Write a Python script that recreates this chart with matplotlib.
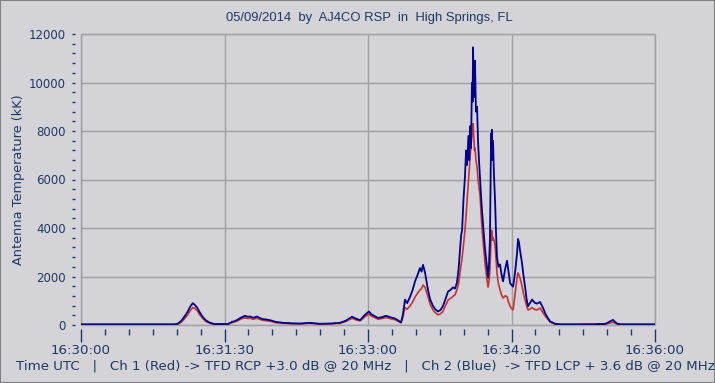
import matplotlib
matplotlib.use("Agg")
import matplotlib.pyplot as plt
from matplotlib.ticker import MultipleLocator, FixedLocator, FixedFormatter
from matplotlib.patches import Rectangle

# ---- data (seconds after 16:30:00 UTC, antenna temperature in kK) ----
t_sec = [0, 59, 60.8, 63, 65.2, 67, 68.4, 69.5, 70.2, 71.5, 72.8, 74.5, 76.5, 78.5, 80.9,
         84, 92.2, 94.7, 96.5, 98.5, 100.5, 102.9, 104.5, 106, 108, 110.4, 112, 113.5, 116,
         118.5, 122, 126.7, 132, 137.4, 143, 149.9, 156, 162.4, 166.2, 168, 170, 172.5, 175,
         178.1, 180.6, 182, 183.8, 186.3, 189, 191.3, 194, 196.9, 199, 200.7, 201.8, 203.2,
         204.5, 206.3, 208, 209.5, 211, 212.6, 213.6, 214.5, 215.8, 217.6, 219, 220.8, 222.3,
         223.9, 225.5, 227, 228.5, 230.2, 231.8, 233.3, 234.6, 235.8, 236.8, 237.7, 238.4, 239,
         239.9, 240.8, 241.5, 242.1, 243, 243.5, 244, 244.6, 245.2, 245.6, 245.9, 246.2, 246.5,
         246.8, 247.1, 247.7, 248.4, 249, 249.6, 250.3, 251.2, 252.1, 253.3, 254.6, 255.3, 255.9,
         256.5, 257.2, 257.5, 257.8, 258.1, 258.4, 259, 259.7, 260.3, 260.9, 261.8, 262.8, 263.7,
         264.7, 266, 267.2, 268.1, 269.1, 270, 271, 272.3, 273.5, 274.1, 274.7, 275.3, 276.6,
         277.5, 278.5, 279.5, 280.4, 281.6, 282.9, 284.5, 286, 287.9, 289.8, 291, 292.3, 294.2,
         297.3, 300.4, 310, 323, 325.5, 328.6, 330.5, 332, 333.7, 335, 336.2, 338.1, 350, 360]

blue_kk = [30, 30, 60, 180, 380, 560, 750, 850, 900, 820, 720, 520, 320, 180, 90,
           40, 40, 130, 160, 230, 310, 380, 340, 350, 300, 350, 300, 250, 230,
           200, 130, 90, 70, 60, 90, 50, 60, 90, 180, 260, 340, 260, 200,
           420, 560, 450, 380, 290, 330, 380, 320, 270, 180, 110, 400, 1050,
           900, 1150, 1450, 1800, 2050, 2350, 2200, 2480, 2150, 1450, 1050, 780, 640,
           560, 620, 780, 1050, 1380, 1450, 1550, 1500, 1750, 2300, 3100, 3700, 3900,
           5200, 6100, 7200, 6600, 7800, 6800, 8200, 7300, 10000, 9200, 11450, 9600, 10600,
           9400, 10900, 8800, 9000, 7600, 6800, 6000, 5000, 4200, 3200, 2400, 1950, 2500,
           3600, 7900, 7200, 8050, 6800, 7600, 6200, 5100, 3800, 2800, 2400, 2500, 2100,
           1800, 2300, 2650, 2200, 1730, 1650, 1580, 2200, 2970, 3550, 3400, 3100, 2550,
           2050, 1580, 1050, 780, 900, 1050, 920, 880, 950, 700, 500, 340, 150,
           50, 30, 30, 30, 40, 40, 100, 160, 210, 120, 60, 30, 30, 30]

red_kk = [15, 15, 40, 120, 280, 430, 580, 680, 720, 680, 600, 420, 260, 140, 70,
          25, 25, 100, 130, 180, 250, 300, 270, 280, 240, 280, 240, 200, 180,
          160, 100, 70, 55, 45, 70, 40, 45, 70, 150, 210, 280, 210, 170,
          340, 460, 370, 320, 240, 270, 310, 260, 220, 150, 90, 300, 720,
          650, 780, 950, 1150, 1300, 1450, 1500, 1650, 1550, 1170, 850, 620, 500,
          420, 460, 560, 780, 1030, 1100, 1180, 1250, 1450, 1700, 2150, 2500, 2750,
          3300, 3900, 4500, 5100, 5900, 6400, 6900, 7400, 7800, 8100, 8300, 7900, 7600,
          7200, 7300, 6800, 6500, 6000, 5700, 5300, 4300, 3500, 2600, 1860, 1560, 1800,
          2300, 3600, 3900, 3800, 3500, 3600, 3500, 3300, 2700, 2150, 1700, 1450, 1250,
          1110, 1200, 1170, 950, 780, 680, 620, 1300, 1950, 2150, 2050, 1950, 1600,
          1300, 1030, 780, 620, 650, 720, 640, 620, 700, 500, 380, 280, 120,
          35, 15, 15, 40, 50, 40, 60, 90, 120, 70, 40, 15, 15, 15]

x_tick_pos = [0, 90, 180, 270, 360]
x_tick_labels = ["16:30:00", "16:31:30", "16:33:00", "16:34:30", "16:36:00"]
y_major_step = 2000
y_minor_step = 400
x_minor_step = 15

title = "05/09/2014  by  AJ4CO RSP  in  High Springs, FL"
ylabel = "Antenna Temperature (kK)"
footer = ("Time UTC   |   Ch 1 (Red) -> TFD RCP +3.0 dB @ 20 MHz   |   "
          "Ch 2 (Blue)  -> TFD LCP + 3.6 dB @ 20 MHz")

BG = "#D4D4D8"
TXT = "#1F3864"
GRID = "#A0A0A4"
RED = "#C83232"
BLUE = "#00008C"

W, H = 715, 383
fig = plt.figure(figsize=(W / 100, H / 100), dpi=100, facecolor=BG)
ax = fig.add_axes([81 / W, 58 / H, 574 / W, 291 / H], facecolor=BG)

ax.plot(t_sec, red_kk, color=RED, lw=1.2, zorder=3)
ax.plot(t_sec, blue_kk, color=BLUE, lw=1.3, zorder=4)

ax.set_xlim(0, 360)
ax.set_ylim(0, 12000)

for s in ax.spines.values():
    s.set_visible(False)
ax.spines['left'].set_position(('outward', 4))
ax.spines['bottom'].set_position(('outward', 3))
ax.add_patch(Rectangle((0, 0), 1, 1, transform=ax.transAxes, fill=False,
                       edgecolor=GRID, lw=1, clip_on=False, zorder=1))

ax.xaxis.set_major_locator(FixedLocator(x_tick_pos))
ax.xaxis.set_major_formatter(FixedFormatter(x_tick_labels))
ax.xaxis.set_minor_locator(MultipleLocator(x_minor_step))
ax.yaxis.set_major_locator(MultipleLocator(y_major_step))
ax.yaxis.set_minor_locator(MultipleLocator(y_minor_step))

ax.tick_params(axis='x', which='major', length=9, width=1, color=TXT, pad=1.5,
               labelsize=9.6, labelcolor=TXT)
ax.tick_params(axis='x', which='minor', length=4, width=1, color=TXT)
ax.tick_params(axis='y', which='both', length=2, width=1, color=TXT, pad=5,
               labelsize=8.5, labelcolor=TXT)

ax.grid(True, which='major', color=GRID, lw=1)
ax.set_axisbelow(True)

fig.text(369 / W, 1 - 18 / H, title, ha='center', va='center',
         fontfamily='Liberation Sans', fontsize=9.4, color=TXT)
fig.text(19 / W, 1 - 180 / H, ylabel, rotation=90, ha='center', va='center',
         fontsize=9.3, color=TXT)
fig.text(16 / W, 1 - 366 / H, footer, ha='left', va='center', fontsize=9.65, color=TXT)

fig.add_artist(Rectangle((0, 0), 1, 1, transform=fig.transFigure, fill=False,
                         edgecolor='#808080', lw=1.5))

fig.savefig("out.png", dpi=100, facecolor=BG)
